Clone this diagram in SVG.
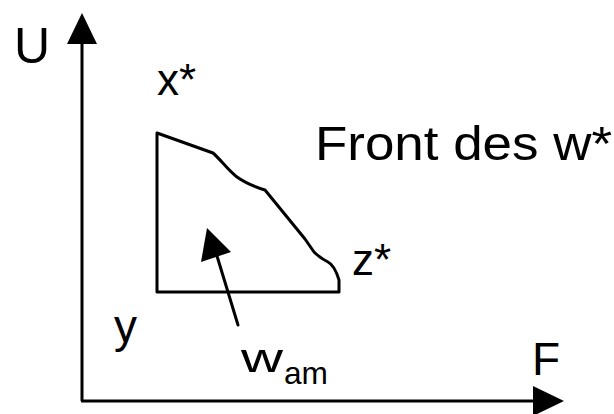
<svg xmlns="http://www.w3.org/2000/svg" width="614" height="414" viewBox="0 0 614 414">
<style>
.t{font-family:"Liberation Sans",Arial,sans-serif;fill:#000}
.ln{stroke:#000;stroke-width:3;fill:none;stroke-linejoin:round;stroke-linecap:round}
.head{fill:#000}
</style>
<rect width="614" height="414" fill="#fff"/>
<g id="connectors">
<g id="axis-U">
<line class="ln" x1="82" y1="401" x2="82" y2="40" style="stroke-linecap:butt"/>
<polygon class="head" points="82,13 97,44 67,44"/>
</g>
<g id="axis-F">
<line class="ln" x1="81" y1="401" x2="536" y2="401" style="stroke-linecap:butt"/>
<polygon class="head" points="564,401 533,386 533,416"/>
</g>
<g id="arrow-wam">
<line class="ln" x1="238" y1="325" x2="217" y2="256"/>
<polygon class="head" points="207,228 231,252 201,262"/>
</g>
</g>
<g id="region">
<path class="ln" d="M157,133 L157,292 L339,292 L339,280 C336,270 332,264 328,262 C322,259 318,256 314,252 L305,239 L265,190 C252,186 244,182 237,177 C228,170 221,160 213,153 Z"/>
</g>
<g id="label-U"><text class="t" x="14" y="63" font-size="50">U</text></g>
<g id="label-x"><text class="t" x="157" y="95" font-size="44">x*</text></g>
<g id="label-front"><text class="t" x="315" y="160" font-size="49" textLength="297" lengthAdjust="spacingAndGlyphs">Front des w*</text></g>
<g id="label-z"><text class="t" x="352" y="275" font-size="44">z*</text></g>
<g id="label-y"><text class="t" x="114" y="342" font-size="46">y</text></g>
<g id="label-wam">
<text class="t" x="241" y="372" font-size="40" textLength="42" lengthAdjust="spacingAndGlyphs">w</text>
<text class="t" x="284" y="384" font-size="32" textLength="44" lengthAdjust="spacingAndGlyphs">am</text>
</g>
<g id="label-F"><text class="t" x="532" y="375" font-size="46">F</text></g>
</svg>
